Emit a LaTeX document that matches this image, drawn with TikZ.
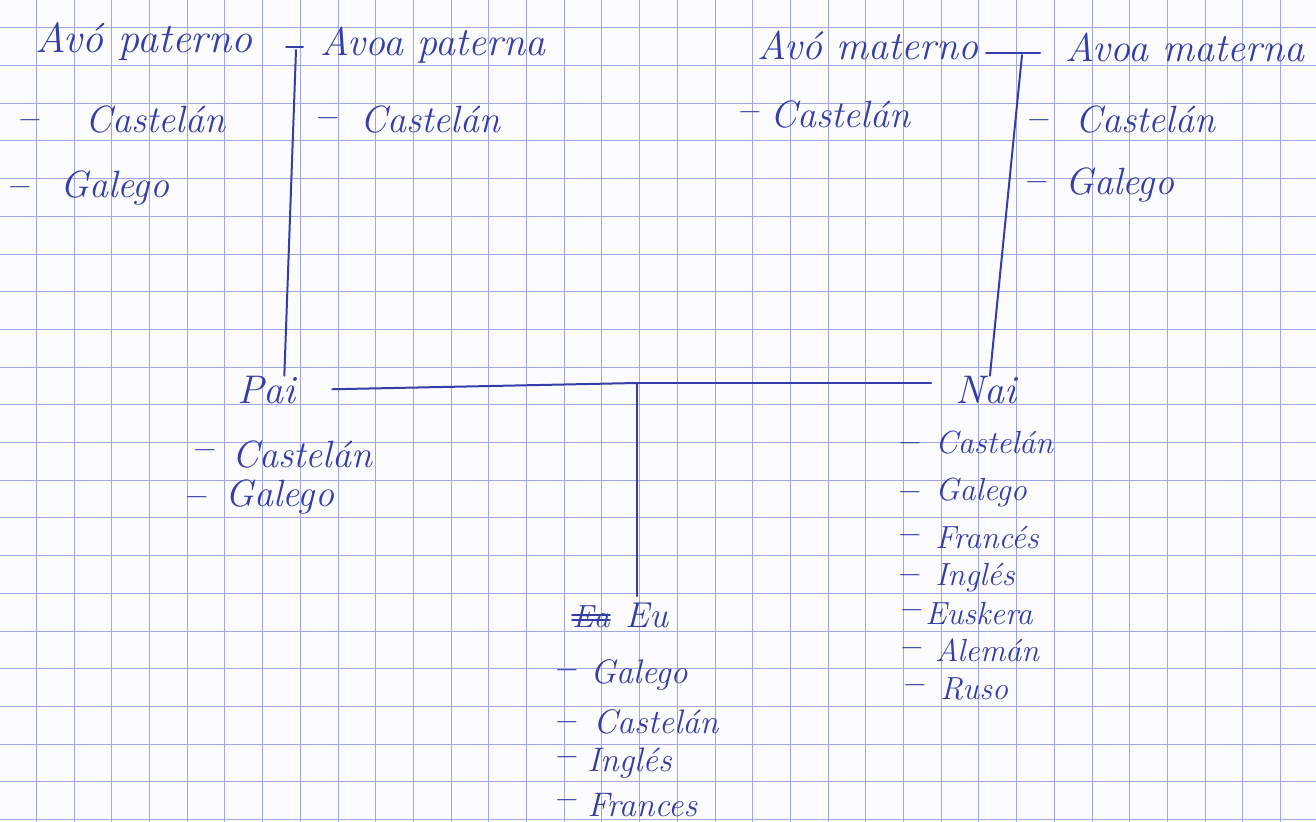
\documentclass[tikz,border=0pt]{standalone}
\usepackage{fontspec}
\definecolor{ink}{RGB}{52,62,168}
\definecolor{gridc}{RGB}{160,165,228}
\definecolor{paper}{RGB}{252,252,254}
\begin{document}
\begin{tikzpicture}[x=0.5pt,y=-0.5pt,
  txt/.style={text=ink,inner sep=0pt,anchor=west,font=\itshape\fontsize{#1}{#1}\selectfont},
  txt/.default=19,
  dsh/.style={text=ink,inner sep=0pt,font=\bfseries\fontsize{17}{17}\selectfont},
  ln/.style={draw=ink,line width=1pt,line cap=round}]
\fill[paper] (0,0) rectangle (1316,822);
\useasboundingbox (0,0) rectangle (1316,822);
% grid
\foreach \k in {-1,...,34} \draw[gridc,line width=0.5pt] ({round(36+37.7*\k)+0.5},0) -- ({round(36+37.7*\k)+0.5},822);
\foreach \k in {-1,...,21} \draw[gridc,line width=0.5pt] (0,{round(27.4+37.7*\k)+0.5}) -- (1316,{round(27.4+37.7*\k)+0.5});

% grandparents
\node[txt=21] (apat) at (35,42) {Avó paterno};
\node[txt=20] (avpat) at (320,45) {Avoa paterna};
\node[txt=20] (amat) at (757,45) {Avó materno};
\node[txt=20] (avmat) at (1065,47) {Avoa materna};

% languages of grandparents
\node[dsh] (d1) at (30,125) {--};
\node[txt] (l1) at (85,120) {Castelán};
\node[dsh] (d2) at (20,192) {--};
\node[txt] (l2) at (60,188) {Galego};
\node[dsh] (d3) at (328,123) {--};
\node[txt] (l3) at (360,120) {Castelán};
\node[dsh] (d4) at (750,117) {--};
\node[txt] (l4) at (770,115) {Castelán};
\node[dsh] (d5) at (1039,125) {--};
\node[txt] (l5) at (1075,120) {Castelán};
\node[dsh] (d6) at (1037,187) {--};
\node[txt] (l6) at (1065,185) {Galego};

% parents
\node[txt=20] (pai) at (237,390) {Pai};
\node[txt=20] (nai) at (955,390) {Nai};
\node[dsh] (pd1) at (205,455) {--};
\node[txt] (p1) at (232,455) {Castelán};
\node[dsh] (pd2) at (197,502) {--};
\node[txt] (p2) at (225,497) {Galego};

\node[dsh] (nd1) at (910,448) {--};
\node[txt=16] (n1) at (935,443) {Castelán};
\node[dsh] (nd2) at (910,497) {--};
\node[txt=16] (n2) at (935,493) {Galego};
\node[dsh] (nd3) at (910,540) {--};
\node[txt=16] (n3) at (935,538) {Francés};
\node[dsh] (nd4) at (910,580) {--};
\node[txt=16] (n4) at (935,578) {Inglés};
\node[dsh] (nd5) at (912,615) {--};
\node[txt=16] (n5) at (925,614) {Euskera};
\node[dsh] (nd6) at (912,653) {--};
\node[txt=16] (n6) at (935,650) {Alemán};
\node[dsh] (nd7) at (915,690) {--};
\node[txt=16] (n7) at (940,689) {Ruso};

% me
\node[txt=16] (ea) at (572,617) {Ea};
\node[txt=18] (eu) at (625,615) {Eu};
\draw[ln,line width=0.8pt] ([yshift=1pt]ea.west) -- ([yshift=1pt]ea.east);
\draw[ln,line width=0.8pt] ([yshift=-1.5pt]ea.west) -- ([yshift=-1.5pt]ea.east);
\node[dsh] (ed1) at (567,675) {--};
\node[txt=17] (e1) at (590,675) {Galego};
\node[dsh] (ed2) at (567,727) {--};
\node[txt=17] (e2) at (593,722) {Castelán};
\node[dsh] (ed3) at (567,762) {--};
\node[txt=17] (e3) at (587,763) {Inglés};
\node[dsh] (ed4) at (567,805) {--};
\node[txt=17] (e4) at (587,805) {Frances};

% connectors
\coordinate (tla) at (286,47);
\coordinate (tlb) at (303,47);
\coordinate (tlm) at (296,50);
\coordinate (tra) at (986,53);
\coordinate (trb) at (1040,53);
\coordinate (trm) at (1022,55);
\coordinate (j) at (637,383);
\draw[ln] (tla) -- (tlb);
\draw[ln] (tlm) -- ([xshift=-6pt]pai.north east);
\draw[ln] (tra) -- (trb);
\draw[ln] (trm) -- ([xshift=2pt]nai.north);
\draw[ln,shorten <=18pt] (pai.east) -- (j);
\draw[ln,shorten >=12pt] (j) -- (j -| nai.west);
\draw[ln,shorten >=3pt] (j) -- (j |- eu.north);
\end{tikzpicture}
\end{document}
